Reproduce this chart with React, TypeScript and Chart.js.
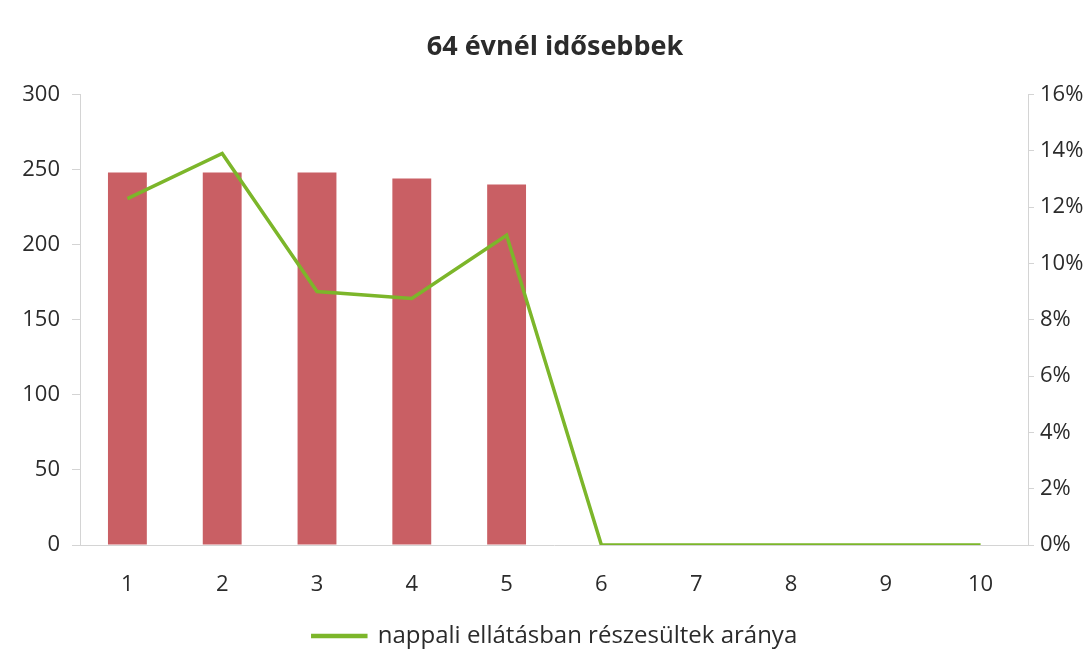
import React, { useEffect, useRef } from "react";
import { Chart, registerables } from "chart.js";

Chart.register(...registerables);

const categories = ["1", "2", "3", "4", "5", "6", "7", "8", "9", "10"];
const barValues = [248, 248, 248, 244, 240, null, null, null, null, null];
const ratioValues = [0.123, 0.139, 0.09, 0.0875, 0.11, 0, 0, 0, 0, 0];
const lineLabel = "nappali ellátásban részesültek aránya";
const barLabel = "64 évnél idősebbek száma";
const titleText = "64 évnél idősebbek";

const FONT = "'Open Sans', 'Noto Sans', sans-serif";
const TEXT = "#2b2b2b";
const AXIS = "#d4d4d4";

export default function App() {
  const ref = useRef<HTMLCanvasElement | null>(null);
  useEffect(() => {
    document.body.style.margin = "0";
    const ctx = ref.current!;
    const chart = new Chart(ctx, {
      type: "bar",
      data: {
        labels: categories,
        datasets: [
          {
            type: "line",
            label: lineLabel,
            data: ratioValues,
            yAxisID: "y1",
            borderColor: "#7cb62a",
            backgroundColor: "#7cb62a",
            borderWidth: 3.5,
            pointRadius: 0,
            tension: 0,
            order: 0,
          } as any,
          {
            type: "bar",
            label: barLabel,
            data: barValues,
            yAxisID: "y",
            backgroundColor: "#c95f64",
            borderWidth: 0,
            barPercentage: 0.41,
            categoryPercentage: 1,
            order: 1,
          } as any,
        ],
      },
      options: {
        animation: false,
        responsive: false,
        maintainAspectRatio: false,
        layout: { padding: { left: 20, right: 0, top: 0, bottom: 2 } },
        plugins: {
          title: {
            display: true,
            text: titleText,
            color: TEXT,
            font: { family: FONT, size: 27, weight: "bold" },
            padding: { top: 31, bottom: 31 },
          },
          legend: {
            position: "bottom",
            labels: {
              filter: (item: any) => item.text === lineLabel,
              color: TEXT,
              font: { family: FONT, size: 24 },
              boxWidth: 53,
              boxHeight: 1,
              padding: 10,
            },
          },
          tooltip: { enabled: false },
        },
        scales: {
          x: {
            offset: true,
            grid: { display: false, drawTicks: false },
            border: { display: true, color: AXIS, width: 1 },
            ticks: { color: TEXT, font: { family: FONT, size: 22 }, padding: 27 },
            afterFit: (s: any) => {
              s.height = 69;
            },
          },
          y: {
            position: "left",
            min: 0,
            max: 300,
            ticks: { stepSize: 50, color: TEXT, font: { family: FONT, size: 22 }, padding: 12 },
            grid: { drawOnChartArea: false, drawTicks: true, tickLength: 8, color: AXIS },
            border: { display: true, color: AXIS, width: 1 },
            afterFit: (s: any) => {
              s.width = 60;
            },
          },
          y1: {
            position: "right",
            min: 0,
            max: 0.16,
            ticks: {
              stepSize: 0.02,
              color: TEXT,
              font: { family: FONT, size: 22 },
              padding: 6,
              callback: (v: any) => Math.round(Number(v) * 100) + "%",
            },
            grid: { drawOnChartArea: false, drawTicks: true, tickLength: 6, color: AXIS },
            border: { display: true, color: AXIS, width: 1 },
            afterFit: (s: any) => {
              s.width = 62;
            },
          },
        },
      },
    });
    return () => chart.destroy();
  }, []);
  return (
    <div style={{ width: 1090, height: 660, background: "#fff" }}>
      <canvas ref={ref} width={1090} height={660} style={{ display: "block" }} />
    </div>
  );
}
